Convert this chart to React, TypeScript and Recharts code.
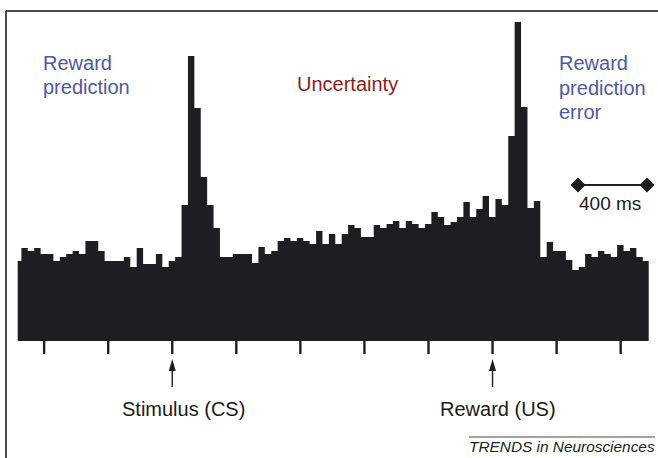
import React from 'react';
import { AreaChart, Area, XAxis, YAxis } from 'recharts';

// firing rate per 40 ms bin (arbitrary units)
const binRates = [
  80, 93, 90, 93, 87, 87, 80, 84, 87, 90,
  87, 100, 100, 90, 80, 80, 80, 84, 74, 93,
  77, 77, 87, 74, 80, 84, 136, 285, 233, 164,
  136, 113, 84, 84, 87, 87, 87, 78, 94, 87,
  90, 100, 103, 100, 103, 100, 97, 110, 97, 107,
  97, 107, 116, 113, 104, 104, 116, 113, 117, 120,
  113, 120, 117, 113, 117, 129, 124, 116, 119, 124,
  139, 124, 132, 145, 124, 142, 136, 205, 319, 234,
  133, 140, 84, 99, 90, 90, 81, 71, 74, 87,
  84, 90, 87, 84, 96, 90, 93, 84, 80,
];
const BIN_MS = 40;
const FIRST_BIN_START = -982; // ms relative to stimulus onset
const tickTimes = [-800, -400, 0, 400, 800, 1200, 1600, 2000, 2400, 2800];
const eventTimes = [0, 2000];
const eventLabels = ['Stimulus (CS)', 'Reward (US)'];
const eventLabelX = [122, 440];

const W = 658;
const H = 458;
const AXIS_H = 14;
const margin = { top: 11, right: 9.3, bottom: 117 - AXIS_H, left: 17.7 };
const xDomain: [number, number] = [-965, 2975];
const ink = '#1e1d22';
const blue = '#4d58a6';
const red = '#8c1c24';
const font = '"Liberation Sans", Arial, Helvetica, sans-serif';

const data = binRates.map((rate, i) => ({ t: FIRST_BIN_START + i * BIN_MS, rate }));
// closing point so the last step has its full width
data.push({ t: FIRST_BIN_START + binRates.length * BIN_MS, rate: binRates[binRates.length - 1] });

const plotW = W - margin.left - margin.right;
const xOf = (t: number) => margin.left + ((t - xDomain[0]) / (xDomain[1] - xDomain[0])) * plotW;

const TickMark = (props: any) => {
  const top = H - 117;
  return <line x1={props.x} x2={props.x} y1={top} y2={top + 13} stroke={ink} strokeWidth={2.4} />;
};

const Arrow = ({ x }: { x: number }) => (
  <g>
    <line x1={x} y1={368} x2={x} y2={387} stroke={ink} strokeWidth={1.4} />
    <polygon points={`${x},359 ${x - 3.5},371 ${x + 3.5},371`} fill={ink} />
  </g>
);

const Diamond = ({ cx, cy }: { cx: number; cy: number }) => (
  <polygon points={`${cx - 7.5},${cy} ${cx},${cy - 7.5} ${cx + 7.5},${cy} ${cx},${cy + 7.5}`} fill={ink} />
);

export default function App() {
  return (
    <div style={{ position: 'absolute', left: 0, top: 0, width: W, height: H, background: '#fff', overflow: 'hidden' }}>
      <AreaChart width={W} height={H} data={data} margin={margin}>
        <XAxis
          dataKey="t"
          type="number"
          domain={xDomain}
          allowDataOverflow
          ticks={tickTimes}
          tick={<TickMark />}
          tickLine={false}
          axisLine={false}
          height={AXIS_H}
          interval={0}
        />
        <YAxis hide domain={[0, 330]} allowDataOverflow />
        <Area
          dataKey="rate"
          type="stepAfter"
          fill={ink}
          fillOpacity={1}
          stroke="none"
          dot={false}
          activeDot={false}
          isAnimationActive={false}
        />
      </AreaChart>
      <svg width={W} height={H} style={{ position: 'absolute', left: 0, top: 0, pointerEvents: 'none' }} fontFamily={font}>
        {/* frame */}
        <line x1={6} y1={11} x2={W} y2={11} stroke="#111" strokeWidth={1.5} />
        <line x1={6} y1={11} x2={6} y2={H} stroke="#111" strokeWidth={1.5} />

        <text x={43} y={70} fontSize={20} fill={blue}>Reward</text>
        <text x={43} y={94} fontSize={20} fill={blue}>prediction</text>
        <text x={297} y={91} fontSize={20} fill={red}>Uncertainty</text>
        <text x={559} y={70} fontSize={20} fill={blue}>Reward</text>
        <text x={559} y={94.5} fontSize={20} fill={blue}>prediction</text>
        <text x={559} y={119} fontSize={20} fill={blue}>error</text>

        {/* 400 ms scale bar */}
        <line x1={578} y1={185} x2={647} y2={185} stroke={ink} strokeWidth={2} />
        <Diamond cx={578} cy={185} />
        <Diamond cx={647} cy={185} />
        <text x={579} y={210} fontSize={19} fill="#1a1a1a">400 ms</text>

        {eventTimes.map((t, i) => (
          <g key={t}>
            <Arrow x={xOf(t)} />
            <text x={eventLabelX[i]} y={416} fontSize={20} fill="#1a1a1a">{eventLabels[i]}</text>
          </g>
        ))}

        <line x1={469} y1={437} x2={655} y2={437} stroke="#444" strokeWidth={1} />
        <text x={469} y={452} fontSize={15.4} fontStyle="italic" fill="#222">TRENDS in Neurosciences</text>
      </svg>
    </div>
  );
}
